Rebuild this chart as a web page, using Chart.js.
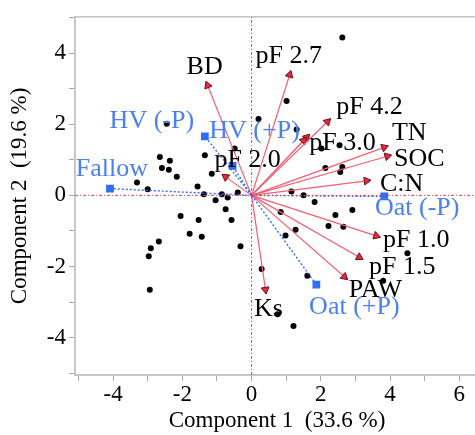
<!DOCTYPE html>
<html lang="en">
<head>
  <meta charset="UTF-8" />
  <title>PCA Biplot</title>
  <style>
    html, body { margin: 0; padding: 0; background: #fff; overflow: hidden; }
    #wrap { width: 485px; height: 435px; }
  </style>
</head>
<body>
  <div id="wrap"><canvas id="biplot" width="485" height="435"></canvas></div>

  <script src="https://cdn.jsdelivr.net/npm/chart.js"></script>
  <script>
    // observation scores
    const obsPC1 = [2.62, 1.01, 0.20, -2.45, 1.30, -0.49, -1.35, -2.65, -2.36, -2.59, -2.39, -2.16, -1.15, -3.31, -3.00, -1.56, -1.38, -1.04, -0.86, -0.69, -0.40, 2.02, 2.54, 2.13, 2.62, 2.56, 1.15, 1.50, 1.82, 2.91, 2.42, 0.84, 2.22, 2.65, 1.27, 0.98, 4.50, 0.29, 1.61, 3.80, 0.75, 1.21, -0.75, -0.58, -2.05, -1.53, -1.79, -1.44, -2.68, -2.91, -2.97, -2.94, -0.32];
    const obsPC2 = [4.44, 2.65, 2.15, 2.01, 1.85, 1.32, 1.13, 1.08, 0.97, 0.77, 0.72, 0.52, 0.61, 0.36, 0.17, 0.25, 0.03, -0.14, 0.03, -0.06, 0.08, 1.32, 1.41, 0.77, 0.80, 0.66, 0.11, 0.00, -0.19, -0.41, -0.55, -0.47, -0.86, -0.88, -0.97, -1.13, -1.63, -2.07, -2.26, -2.40, -3.34, -3.67, -0.39, -0.69, -0.58, -0.69, -1.08, -1.16, -1.30, -1.49, -1.71, -2.65, -1.43];

    // variable loadings (arrows)
    const varNames = ['BD', 'pF 2.7', 'pF 4.2', 'pF 3.0', '', 'TN', 'SOC', 'C:N', 'pF 1.0', 'pF 1.5', 'PAW', 'Ks', 'pF 2.0'];
    const varPC1 = [-1.27, 1.10, 2.19, 1.50, 1.59, 3.83, 3.92, 3.32, 3.60, 3.11, 2.68, 0.40, -0.75];
    const varPC2 = [3.09, 3.39, 2.07, 1.54, 1.63, 1.35, 1.10, 0.41, -1.14, -1.74, -2.29, -2.65, 0.52];

    // treatment centroids
    const trtNames = ['Fallow', 'HV (-P)', 'HV (+P)', 'Oat (-P)', 'Oat (+P)'];
    const trtPC1 = [-4.09, -1.35, -0.55, 3.83, 1.87];
    const trtPC2 = [0.19, 1.66, 0.83, -0.03, -2.51];

    const xTitle = 'Component 1  (33.6 %)';
    const yTitle = 'Component 2  (19.6 %)';

    // label placement, pixels from the marker
    const varLabelOffsets = [[-3, -18], [-1, -19], [42, -15], [39, 3], [0, 0], [25, -14], [32, 3], [35, 3], [40, 4], [43, 10], [31, 13], [3, 20], [22, -17]];
    const trtLabelOffsets = [[2, -19], [-53, -15], [22, -35], [33, 12], [38, 23]];

    const RED = 'rgb(242, 95, 115)';
    const BLUE = 'rgb(45, 110, 245)';
    const BLUE_TEXT = 'rgb(75, 128, 240)';
    const SERIF = '"Liberation Serif", "Times New Roman", serif';

    function arrowRotation(ctx) {
      const ch = ctx.chart;
      const raw = ctx.raw;
      if (!ch.scales.x || !raw) return 0;
      const dx = ch.scales.x.getPixelForValue(raw.x) - ch.scales.x.getPixelForValue(0);
      const dy = ch.scales.y.getPixelForValue(raw.y) - ch.scales.y.getPixelForValue(0);
      return Math.atan2(dx, -dy) * 180 / Math.PI;
    }

    const datasets = [];

    // zero reference lines
    datasets.push({
      data: [{x: 0, y: -5.05}, {x: 0, y: 5.02}],
      showLine: true, borderColor: 'rgb(240, 60, 80)', borderWidth: 1, borderDash: [3, 2, 1, 2], pointRadius: 0
    });
    datasets.push({
      data: [{x: -5.1, y: 0}, {x: 6.57, y: 0}],
      showLine: true, borderColor: 'rgb(240, 60, 80)', borderWidth: 1, borderDash: [3, 2, 1, 2], pointRadius: 0
    });

    // treatment dotted lines + squares
    trtNames.forEach((n, i) => {
      datasets.push({
        data: [{x: 0, y: 0}, {x: trtPC1[i], y: trtPC2[i]}],
        showLine: true, borderColor: BLUE, borderWidth: 1.4, borderDash: [2, 2],
        pointRadius: [0, 4.5], pointStyle: 'rect', backgroundColor: BLUE, pointBorderColor: BLUE
      });
    });

    // variable arrows
    varNames.forEach((n, i) => {
      datasets.push({
        data: [{x: 0, y: 0}, {x: varPC1[i], y: varPC2[i]}],
        showLine: true, borderColor: RED, borderWidth: 1.2,
        pointRadius: [0, 4.5], pointStyle: 'triangle', pointRotation: arrowRotation,
        backgroundColor: 'rgb(232, 40, 60)', pointBorderColor: 'rgb(110, 15, 25)', pointBorderWidth: 1
      });
    });

    // observations
    datasets.push({
      data: obsPC1.map((v, i) => ({x: v, y: obsPC2[i]})),
      pointRadius: 3, backgroundColor: '#000', borderColor: '#000', pointBorderWidth: 0
    });

    const labelPlugin = {
      id: 'labels',
      afterDatasetsDraw(chart) {
        const {ctx, scales: {x, y}} = chart;
        ctx.save();
        ctx.font = '26px ' + SERIF;
        ctx.textAlign = 'center';
        ctx.textBaseline = 'middle';
        ctx.fillStyle = '#000';
        varNames.forEach((n, i) => {
          if (!n) return;
          const px = x.getPixelForValue(varPC1[i]) + varLabelOffsets[i][0];
          const py = y.getPixelForValue(varPC2[i]) + varLabelOffsets[i][1];
          ctx.fillText(n, px, py);
        });
        ctx.fillStyle = BLUE_TEXT;
        trtNames.forEach((n, i) => {
          const px = x.getPixelForValue(trtPC1[i]) + trtLabelOffsets[i][0];
          const py = y.getPixelForValue(trtPC2[i]) + trtLabelOffsets[i][1];
          ctx.fillText(n, px, py);
        });
        ctx.restore();
      }
    };

    const framePlugin = {
      id: 'frame',
      beforeDatasetsDraw(chart) {
        const {ctx, chartArea: a} = chart;
        ctx.save();
        ctx.strokeStyle = '#c4c4c4';
        ctx.lineWidth = 1.5;
        ctx.strokeRect(a.left, a.top, a.right - a.left, a.bottom - a.top);
        ctx.restore();
      }
    };

    const tickFont = {family: SERIF, size: 23};

    new Chart(document.getElementById('biplot'), {
      type: 'scatter',
      data: {datasets},
      options: {
        responsive: false,
        animation: false,
        layout: {padding: {top: 10, right: 5, left: 0, bottom: 0}},
        plugins: {legend: {display: false}, tooltip: {enabled: false}},
        scales: {
          x: {
            type: 'linear', min: -5.1, max: 6.57,
            afterFit: s => { s.height = 60; },
            ticks: {
              stepSize: 1, includeBounds: false, color: '#000', font: tickFont, padding: 0, maxRotation: 0, autoSkip: false,
              callback: v => (v % 2 === 0 ? String(v) : '')
            },
            grid: {drawOnChartArea: false, tickLength: 6, color: '#a8a8a8'},
            border: {color: '#c4c4c4', width: 1.5},
            title: {display: true, text: xTitle, color: '#000', font: tickFont, padding: {top: 0, bottom: 0}}
          },
          y: {
            type: 'linear', min: -5.05, max: 5.02,
            afterFit: s => { s.width = 75; },
            ticks: {
              stepSize: 1, includeBounds: false, color: '#000', font: tickFont, padding: 3, autoSkip: false,
              callback: v => (v % 2 === 0 ? String(v) : '')
            },
            grid: {drawOnChartArea: false, tickLength: 6, color: '#a8a8a8'},
            border: {color: '#c4c4c4', width: 1.5},
            title: {display: true, text: yTitle, color: '#000', font: tickFont, padding: {top: 6, bottom: 0}}
          }
        }
      },
      plugins: [framePlugin, labelPlugin]
    });
  </script>
</body>
</html>
